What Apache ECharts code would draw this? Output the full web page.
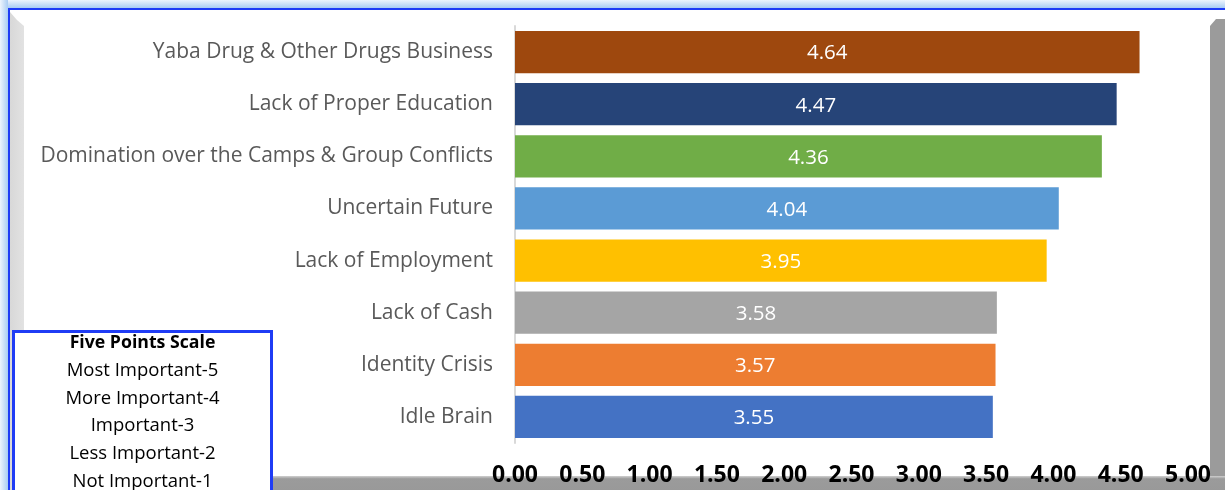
<!DOCTYPE html>
<html>
<head>
<meta charset="utf-8">
<script src="https://cdn.jsdelivr.net/npm/echarts@6/dist/echarts.min.js"></script>
<style>
  html, body { margin: 0; padding: 0; background: #ffffff; }
  #chart { width: 1225px; height: 490px; }
</style>
</head>
<body>
<div id="chart"></div>
<script>
// Reasons, listed top to bottom, with their mean scores on a five point scale
const categories = [
  'Yaba Drug & Other Drugs Business',
  'Lack of Proper Education',
  'Domination over the Camps & Group Conflicts',
  'Uncertain Future',
  'Lack of Employment',
  'Lack of Cash',
  'Identity Crisis',
  'Idle Brain'
];
const scores = [4.64, 4.47, 4.36, 4.04, 3.95, 3.58, 3.57, 3.55];
const barColors = ['#9E480E', '#264478', '#70AD47', '#5B9BD5', '#FFC000', '#A5A5A5', '#ED7D31', '#4472C4'];
const scaleTitle = 'Five Points Scale';
const scaleLines = ['Most Important-5', 'More Important-4', 'Important-3', 'Less Important-2', 'Not Important-1'];

const FONT = '"Open Sans", "Noto Sans", sans-serif';

const chart = echarts.init(document.getElementById('chart'), null, { renderer: 'canvas' });

// Picture frame: soft blue glow, thin blue border, grey bevel and shadow
const frame = [
  { type: 'rect', z: -20, shape: { x: 0, y: 0, width: 1225, height: 8 },
    style: { fill: new echarts.graphic.LinearGradient(0, 0, 0, 1, [
      { offset: 0, color: '#eef5fd' }, { offset: 1, color: '#a9cdf3' }]) } },
  { type: 'rect', z: -20, shape: { x: 0, y: 0, width: 8, height: 490 },
    style: { fill: new echarts.graphic.LinearGradient(0, 0, 1, 0, [
      { offset: 0, color: '#eef5fd' }, { offset: 1, color: '#a9cdf3' }]) } },
  { type: 'rect', z: -19, shape: { x: 8, y: 8, width: 1217, height: 2 }, style: { fill: '#1f3cf5' } },
  { type: 'rect', z: -19, shape: { x: 8, y: 8, width: 2, height: 482 }, style: { fill: '#1f3cf5' } },
  { type: 'polygon', z: -18, shape: { points: [[10, 12], [17, 20], [24, 26], [24, 490], [10, 490]] },
    style: { fill: new echarts.graphic.LinearGradient(0, 0, 1, 0, [
      { offset: 0, color: '#d8d8d8' }, { offset: 1, color: '#e2e2e2' }]) } },
  { type: 'polygon', z: -18, shape: { points: [[1210, 26], [1216, 19], [1225, 19], [1225, 490], [1210, 490]] },
    style: { fill: '#9b9b9b' } },
  { type: 'rect', z: -18, shape: { x: 24, y: 476, width: 1201, height: 14 },
    style: { fill: new echarts.graphic.LinearGradient(0, 0, 0, 1, [
      { offset: 0, color: '#d0d0d0' }, { offset: 0.2, color: '#9b9b9b' }, { offset: 1, color: '#999999' }]) } }
];

// Scale key box in the lower left corner
const keyBox = {
  type: 'group', z: 100, left: 12, top: 330,
  children: [
    { type: 'rect', z: 100, shape: { x: 1, y: 1, width: 258, height: 170 },
      style: { fill: '#ffffff', stroke: '#1f3cf5', lineWidth: 3 } },
    { type: 'text', z: 101, style: { x: 130, y: 12, text: scaleTitle, align: 'center', verticalAlign: 'middle',
      font: 'bold 17.7px ' + FONT, fill: '#000000' } }
  ].concat(scaleLines.map((t, i) => ({
    type: 'text', z: 101,
    style: { x: 130, y: 40 + i * 27.8, text: t, align: 'center', verticalAlign: 'middle',
      font: '18.5px ' + FONT, fill: '#000000' }
  })))
};

chart.setOption({
  animation: false,
  backgroundColor: '#ffffff',
  grid: { left: 515, right: 37, top: 26, bottom: 47, containLabel: false },
  xAxis: {
    type: 'value', min: 0, max: 5, interval: 0.5,
    axisLine: { show: false }, axisTick: { show: false }, splitLine: { show: false },
    axisLabel: {
      margin: 21, color: '#000000', fontWeight: 'bold', fontSize: 23, fontFamily: FONT,
      formatter: v => v.toFixed(2)
    }
  },
  yAxis: {
    type: 'category', data: categories, inverse: true,
    axisLine: { show: true, lineStyle: { color: '#d9d9d9', width: 2 } },
    axisTick: { show: false },
    axisLabel: { margin: 22, color: '#595959', fontSize: 21, fontFamily: FONT, padding: [3, 0, 0, 0] }
  },
  series: [{
    type: 'bar',
    data: scores.map((v, i) => ({ value: v, itemStyle: { color: barColors[i] } })),
    barCategoryGap: '19%',
    label: {
      show: true, position: 'inside', color: '#ffffff', fontSize: 20.5, fontFamily: FONT,
      offset: [0, 1.5],
      formatter: p => p.value.toFixed(2)
    }
  }],
  graphic: frame.concat([keyBox])
});
</script>
</body>
</html>
